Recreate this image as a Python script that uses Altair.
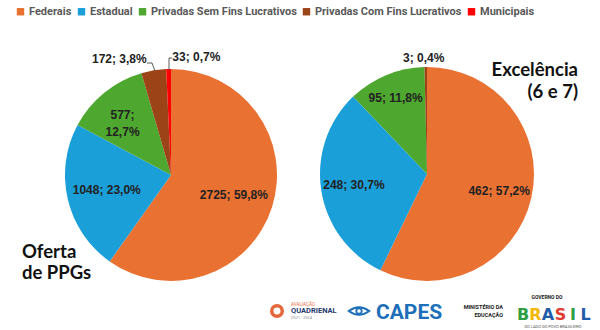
import altair as alt
import pandas as pd

categories = ["Federais", "Estadual", "Privadas Sem Fins Lucrativos",
              "Privadas Com Fins Lucrativos", "Municipais"]
colors = ["#E97132", "#1B9FD8", "#4EA72E", "#9C4418", "#FF0000"]
oferta_values = [2725, 1048, 577, 172, 33]
excelencia_values = [462, 248, 95, 3, 0]
title_left = ["Oferta", "de PPGs"]
title_right = ["Excelência", "(6 e 7)"]

LABEL_FONT = "Liberation Sans"
TITLE_FONT = "Lato"
LEGEND_FONT = "Roboto"


def make_df(values):
    total = sum(values)
    rows = []
    for i, (c, v) in enumerate(zip(categories, values)):
        pct = f"{v / total * 100:.1f}".replace(".", ",")
        rows.append(dict(category=c, order=i, value=v,
                         label=f"{v}; {pct}%", label2=f"{v};\n{pct}%"))
    return pd.DataFrame(rows)


color_enc = alt.Color(
    "category:N",
    scale=alt.Scale(domain=categories, range=colors),
    sort=categories,
    legend=alt.Legend(
        orient="none", legendX=15, legendY=6, direction="horizontal",
        title=None, symbolType="square", symbolSize=55, symbolStrokeWidth=0,
        labelFont=LEGEND_FONT, labelFontSize=11, labelFontWeight="bold",
        labelColor="#595959", columnPadding=4, labelOffset=3, labelLimit=0,
    ),
)


def pie(values, cx, cy, r, inner_r, green_r, green_field, outer):
    df = make_df(values)
    base = alt.Chart(df)
    arcs = base.mark_arc(outerRadius=r, x=cx, y=cy).encode(
        theta=alt.Theta("value:Q", stack=True),
        order=alt.Order("order:Q"),
        color=color_enc,
    )
    layers = [arcs]

    def lbl(cats, radius, field, **kw):
        expr = " || ".join([f"datum.category == '{c}'" for c in cats])
        return base.transform_calculate(
            t=f"({expr}) ? datum.{field} : ''"
        ).mark_text(
            x=cx, y=cy, radius=radius, font=LABEL_FONT, fontSize=12,
            fontWeight="bold", color="#222222", **kw
        ).encode(
            theta=alt.Theta("value:Q", stack=True),
            order=alt.Order("order:Q"),
            text="t:N",
        )

    layers.append(lbl(categories[:2], inner_r, "label"))
    layers.append(lbl([categories[2]], green_r, green_field, lineBreak="\n", lineHeight=17))
    for cat, rad, kw in outer:
        layers.append(lbl([cat], rad, "label", **kw))
    return alt.layer(*layers)


left = pie(oferta_values, 171, 175, 106, 66, 77, "label2", [
    (categories[3], 118, dict(align="right", dx=-5)),
    (categories[4], 118, dict(align="left", dx=4)),
])
right = pie(excelencia_values, 427, 174, 107, 74, 82, "label", [
    (categories[3], 116, dict(align="center", dx=-2)),
])

one = pd.DataFrame({"t": [0]})


def txt(text, x, y, size, align="left", color="#111111", font=TITLE_FONT, weight="bold", baseline="alphabetic"):
    return alt.Chart(one).mark_text(
        x=x, y=y, text=text, fontSize=size, align=align, color=color,
        font=font, fontWeight=weight, baseline=baseline
    ).encode(opacity=alt.value(1))


def seg(x1, y1, x2, y2, color="#595959"):
    return alt.Chart(one).mark_rule(color=color, strokeWidth=1).encode(
        x=alt.value(x1), y=alt.value(y1), x2=alt.value(x2), y2=alt.value(y2))


leaders = [
    seg(147, 63, 152, 63), seg(152, 63, 155, 71),
    seg(169, 58, 172, 58), seg(169, 58, 169, 70),
]

titles = [
    txt(title_left[0], 22, 258, 18.5),
    txt(title_left[1], 22, 279, 18.5),
    txt(title_right[0], 578, 76, 18.5, align="right"),
    txt(title_right[1], 578, 98, 18.5, align="right"),
]

logos = [
    alt.Chart(one).mark_point(x=277, y=311, shape="circle", size=110, strokeWidth=3.5,
                              color="#E5683A", filled=False).encode(opacity=alt.value(1)),
    txt("AVALIAÇÃO", 291, 306, 4.5, color="#E5683A", font="Roboto", weight="normal"),
    txt("QUADRIENAL", 291, 313, 7.5, color="#1E3A6E", font="Roboto"),
    txt("2021 · 2024", 291, 319, 4, color="#8A8A8A", font="Roboto", weight="normal"),
    alt.Chart(one).mark_point(x=359, y=311, shape="M-1,0 Q0,-0.75 1,0 Q0,0.75 -1,0 Z",
                              size=420, strokeWidth=2, color="#1C6FB8", filled=False
                              ).encode(opacity=alt.value(1)),
    alt.Chart(one).mark_point(x=359, y=311, shape="circle", size=30, strokeWidth=1.8,
                              color="#1C6FB8", filled=False).encode(opacity=alt.value(1)),
    txt("CAPES", 376, 319, 21, color="#1C6FB8", font="Roboto"),
    txt("MINISTÉRIO DA", 503, 309, 5.5, align="right", color="#222222", font="Roboto"),
    txt("EDUCAÇÃO", 503, 317, 5.5, align="right", color="#222222", font="Roboto"),
    txt("GOVERNO DO", 547, 299, 5, align="center", color="#222222", font="Roboto"),
    txt("DO LADO DO POVO BRASILEIRO", 553, 328, 4, align="center", color="#555555", font="Roboto", weight="normal"),
]
brasil_letters = ["B", "R", "A", "S", "I", "L"]
brasil_colors = ["#2E9E44", "#F5B800", "#1F5DAB", "#E03A2F", "#2E9E44", "#1F5DAB"]
for i, (ch, col) in enumerate(zip(brasil_letters, brasil_colors)):
    logos.append(txt(ch, 523 + i * 12.5, 320, 16, align="center", color=col, font="DejaVu Sans", weight="bold"))

chart = alt.layer(left, right, *leaders, *titles, *logos).resolve_scale(
    theta="independent"
).properties(
    width=600, height=330, padding=0, autosize="none"
).configure_view(stroke=None)

chart.save("out.html", embed_options={"renderer": "svg", "actions": False})
